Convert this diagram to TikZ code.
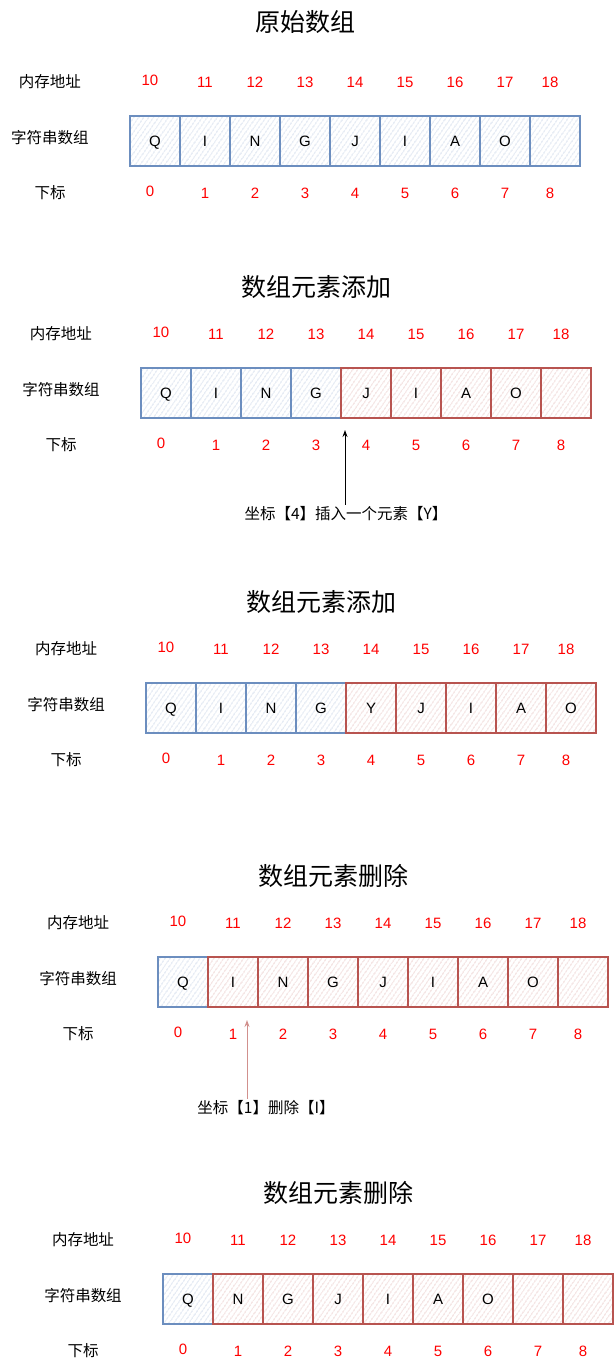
\documentclass[tikz,border=0pt]{standalone}
\usepackage{fontspec}
\setmainfont{Liberation Sans}
\newfontfamily\cjk{Noto Sans CJK SC}
\usetikzlibrary{arrows.meta, patterns.meta}
\definecolor{blueline}{HTML}{6C8EBF}
\definecolor{redline}{HTML}{B85450}
\definecolor{numred}{HTML}{FF0000}
\colorlet{bluehatch}{blueline!45}
\colorlet{redhatch}{redline!40}

\begin{document}
\begin{tikzpicture}[x=1pt,y=-1pt,
  boxcell/.style={minimum size=50pt, inner sep=0pt, line width=1.3pt,
    font=\fontsize{15}{18}\selectfont, text height=10.8pt, text depth=0pt,
    pattern={Lines[angle=55,distance=4pt,line width=0.7pt]}},
  num/.style={text=numred, font=\fontsize{15}{18}\selectfont, inner sep=1pt},
  lbl/.style={font=\cjk\fontsize{15.5}{18}\selectfont},
  ttl/.style={font=\cjk\fontsize{25}{30}\selectfont},
  capt/.style={font=\cjk\fontsize{15.5}{18}\selectfont, inner sep=2pt},
  arr/.style={-{Stealth[length=7pt,width=5pt]}, line width=1pt}]
\useasboundingbox (0,0) rectangle (614,1369);

% one block per array: box corner, title, blue cells, letters
\foreach \s/\ox/\oy/\ty/\ttl/\nb/\txt in {
  1/130/116/-94/原始数组/9/{Q,I,N,G,J,I,A,O,{}},
  2/141/368/-81/数组元素添加/4/{Q,I,N,G,J,I,A,O,{}},
  3/146/683/-81/数组元素添加/4/{Q,I,N,G,Y,J,I,A,O},
  4/158/957/-81/数组元素删除/1/{Q,I,N,G,J,I,A,O,{}},
  5/163/1274/-81/数组元素删除/1/{Q,N,G,J,I,A,O,{},{}}}{
  \node[ttl] (t\s) at (\ox+175,\oy+\ty) {\ttl};
  \node[lbl] (mem\s) at (\ox-80,\oy-34) {内存地址};
  \node[lbl] (str\s) at (\ox-80,\oy+22) {字符串数组};
  \node[lbl] (idx\s) at (\ox-80,\oy+77) {下标};
  \foreach \c [count=\k from 0] in \txt {
    \ifnum\k<\nb \def\lc{blueline}\def\pc{bluehatch}\else\def\lc{redline}\def\pc{redhatch}\fi
    \node[boxcell, draw=\lc, pattern color=\pc] (c\s-\k) at (\ox+25+50*\k,\oy+25) {\c};
    \pgfmathsetmacro\nx{\k==0 ? 20 : (\k==8 ? 420 : 25+50*\k)}
    \pgfmathsetmacro\dy{\k==0 ? -2 : 0}
    \pgfmathtruncatemacro\addr{10+\k}
    \node[num] (a\s-\k) at (\ox+\nx,\oy-34+\dy) {\addr};
    \node[num] (i\s-\k) at (\ox+\nx,\oy+77+\dy) {\k};
  }
}

% insert pointer
\coordinate (tip2) at (345,430);
\node[capt] (cap2) at (346,514) {坐标【4】插入一个元素【Y】};
\draw[arr] (cap2.north -| tip2) -- (tip2);

% delete pointer
\coordinate (tip4) at (247,1020);
\node[capt] (cap4) at (266,1108) {坐标【1】删除【I】};
\draw[arr, draw=redline!65, fill=redline!65] (cap4.north -| tip4) -- (tip4);
\end{tikzpicture}
\end{document}
